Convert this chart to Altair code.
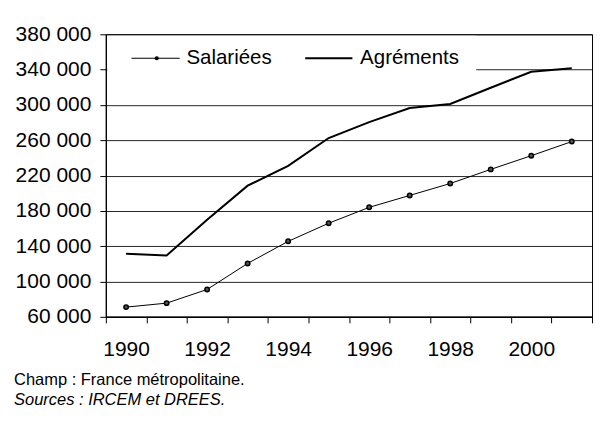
import altair as alt
import pandas as pd

# ---- data ----
years = [1990, 1991, 1992, 1993, 1994, 1995, 1996, 1997, 1998, 1999, 2000, 2001]
salariees = [71000, 75500, 91000, 120500, 145500, 166000, 184000, 197500, 211000, 227000, 242500, 258500]
agrements = [131500, 129500, 170000, 208500, 231000, 262500, 280500, 296500, 301000, 319500, 337500, 341500]
series_names = ["Salariées", "Agréments"]
y_ticks = [60000, 100000, 140000, 180000, 220000, 260000, 300000, 340000, 380000]
x_bounds = [1989.5, 1990.5, 1991.5, 1992.5, 1993.5, 1994.5, 1995.5, 1996.5,
            1997.5, 1998.5, 1999.5, 2000.5, 2001.5]
notes = ["Champ : France métropolitaine.", "Sources : IRCEM et DREES."]

W, H = 487, 283
FONT = "Liberation Sans"
AXIS_FS = 21

df = pd.DataFrame({
    "year": years + years,
    "value": salariees + agrements,
    "series": [series_names[0]] * len(years) + [series_names[1]] * len(years),
})

x_scale = alt.Scale(domain=[x_bounds[0], x_bounds[-1]], nice=False, zero=False)
y_scale = alt.Scale(domain=[y_ticks[0], y_ticks[-1]], nice=False, zero=False)

x_axis = alt.Axis(
    values=x_bounds,
    tickCount=50,
    labelExpr="((datum.value - 1989.5) % 2 == 0 && datum.value < 2001) ? format(datum.value + 0.5, 'd') : ''",
    labelOffset=W / 24,
    labelFlush=False,
    labelOverlap=False,
    labelAngle=0,
    tickSize=6,
    grid=False,
    title=None,
    labelFont=FONT,
    labelFontSize=AXIS_FS,
    labelColor="black",
    labelPadding=16,
    domainColor="black",
    domainWidth=1.5,
    tickColor="black",
    tickWidth=1,
)
y_axis = alt.Axis(
    values=y_ticks,
    tickCount=50,
    labelExpr="replace(format(datum.value, ',d'), ',', ' ')",
    tickSize=6,
    grid=True,
    gridColor="black",
    gridWidth=1,
    gridOpacity=0.85,
    title=None,
    labelFont=FONT,
    labelFontSize=AXIS_FS,
    labelColor="black",
    labelPadding=9,
    labelFlush=False,
    labelOverlap=False,
    domainColor="black",
    domainWidth=1.2,
    tickColor="black",
)

base = alt.Chart(df)
x_enc = alt.X("year:Q", scale=x_scale, axis=x_axis)
y_enc = alt.Y("value:Q", scale=y_scale, axis=y_axis)

sal_line = base.transform_filter(alt.datum.series == series_names[0]).mark_line(
    color="black", strokeWidth=1
).encode(x=x_enc, y=y_enc)
sal_pts = base.transform_filter(alt.datum.series == series_names[0]).mark_point(
    shape="circle", filled=False, stroke="black", fill="#555555", strokeWidth=1.5,
    size=20, opacity=1
).encode(x="year:Q", y="value:Q")
agr_line = base.transform_filter(alt.datum.series == series_names[1]).mark_line(
    color="black", strokeWidth=2
).encode(x="year:Q", y="value:Q")

one = pd.DataFrame({"k": [0]})
leg_box = alt.Chart(one).mark_rect(fill="white", stroke=None).encode(
    x=alt.value(1.5), x2=alt.value(371), y=alt.value(1.5), y2=alt.value(39)
)
leg_sal_line = alt.Chart(one).mark_rule(color="black", strokeWidth=1).encode(
    x=alt.value(25.7), x2=alt.value(74), y=alt.value(24)
)
leg_sal_pt = alt.Chart(one).mark_point(filled=True, color="black", size=18, opacity=1).encode(
    x=alt.value(51), y=alt.value(24)
)
leg_agr_line = alt.Chart(one).mark_rule(color="black", strokeWidth=2).encode(
    x=alt.value(199.7), x2=alt.value(247), y=alt.value(24)
)
leg_text_sal = alt.Chart(pd.DataFrame({"t": [series_names[0]]})).mark_text(
    align="left", baseline="middle", font=FONT, fontSize=20.5, color="black"
).encode(x=alt.value(80.7), y=alt.value(24), text="t:N")
leg_text_agr = alt.Chart(pd.DataFrame({"t": [series_names[1]]})).mark_text(
    align="left", baseline="middle", font=FONT, fontSize=20.5, color="black"
).encode(x=alt.value(254.7), y=alt.value(24), text="t:N")

note1 = alt.Chart(pd.DataFrame({"t": [notes[0]]})).mark_text(
    align="left", baseline="alphabetic", font=FONT, fontSize=16.5, color="black"
).encode(x=alt.value(-92), y=alt.value(351), text="t:N")
note2 = alt.Chart(pd.DataFrame({"t": [notes[1]]})).mark_text(
    align="left", baseline="alphabetic", font=FONT, fontSize=16.5, color="black",
    fontStyle="italic"
).encode(x=alt.value(-92), y=alt.value(371), text="t:N")

chart = alt.layer(
    sal_line, agr_line, sal_pts,
    leg_box, leg_sal_line, leg_sal_pt, leg_agr_line, leg_text_sal, leg_text_agr,
    note1, note2,
).properties(
    width=W, height=H,
    padding={"left": 98, "top": 26, "right": 15, "bottom": 100},
    autosize=alt.AutoSizeParams(type="none"),
).configure_view(stroke="black", strokeWidth=1)

chart.save("out.html", embed_options={"renderer": "svg", "actions": False})
